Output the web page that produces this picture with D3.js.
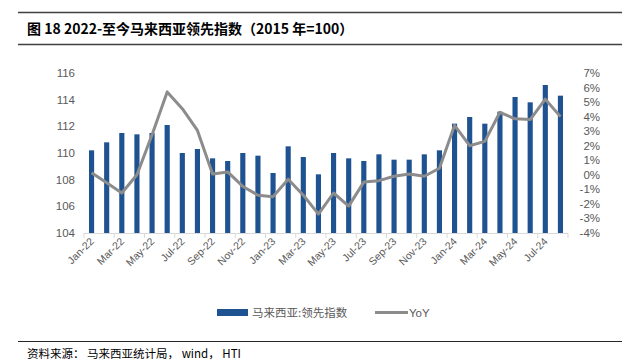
<!DOCTYPE html>
<html>
<head>
<meta charset="utf-8">
<script src="https://cdn.jsdelivr.net/npm/d3@7"></script>
<style>
  body { margin: 0; background: #fff; }
  svg { display: block; font-family: "Liberation Sans", "Noto Sans CJK SC", sans-serif; }
</style>
</head>
<body>
<svg width="633" height="363"></svg>
<script>
// Months Jan-22 .. Aug-24
const months = ["Jan-22","Feb-22","Mar-22","Apr-22","May-22","Jun-22","Jul-22","Aug-22","Sep-22","Oct-22","Nov-22","Dec-22",
                "Jan-23","Feb-23","Mar-23","Apr-23","May-23","Jun-23","Jul-23","Aug-23","Sep-23","Oct-23","Nov-23","Dec-23",
                "Jan-24","Feb-24","Mar-24","Apr-24","May-24","Jun-24","Jul-24","Aug-24"];

// Leading index (2015=100)
const indexValues = [110.2,110.8,111.5,111.4,111.5,112.1,110.0,110.3,109.6,109.4,110.0,109.8,
                     108.5,110.5,109.7,108.4,110.0,109.6,109.4,109.9,109.5,109.5,109.9,110.2,
                     112.2,112.7,112.2,113.1,114.2,113.8,115.1,114.3];

// YoY, %
const yoyValues = [0.15,-0.55,-1.25,0.0,2.75,5.7,4.55,3.05,0.05,0.2,-0.8,-1.4,
                   -1.5,-0.3,-1.4,-2.7,-1.25,-2.15,-0.5,-0.4,-0.1,0.05,-0.1,0.45,
                   3.4,2.0,2.3,4.3,3.85,3.8,5.2,4.0];

const leftTicks = [104,106,108,110,112,114,116];
const rightTicks = [-4,-3,-2,-1,0,1,2,3,4,5,6,7];

const svg = d3.select("svg");
const margin = {top: 73, left: 84};
const plotBottom = 233, plotRight = 568;

const x = d3.scaleBand().domain(months).range([margin.left, plotRight]).paddingInner(0.66).paddingOuter(0.33);
const yL = d3.scaleLinear().domain([104,116]).range([plotBottom, margin.top]);
const yR = d3.scaleLinear().domain([-4,7]).range([plotBottom, margin.top]);

// Title block
svg.append("line").attr("x1",18).attr("x2",622).attr("y1",12.5).attr("y2",12.5)
  .attr("stroke","#404040").attr("stroke-width",1.5);
svg.append("line").attr("x1",18).attr("x2",622).attr("y1",44.5).attr("y2",44.5)
  .attr("stroke","#404040").attr("stroke-width",1.5);
svg.append("text").attr("x",27).attr("y",34)
  .attr("font-size","14px").attr("font-weight","bold").attr("fill","#000")
  .attr("font-family","'Noto Sans CJK SC', sans-serif")
  .text("图 18 2022-至今马来西亚领先指数（2015 年=100）");

// Bars
svg.append("g").selectAll("rect").data(months).join("rect")
  .attr("x", d => x(d))
  .attr("width", x.bandwidth())
  .attr("y", (d,i) => yL(indexValues[i]))
  .attr("height", (d,i) => plotBottom - yL(indexValues[i]))
  .attr("fill","#1f5291");

// x axis
const step = x.step();
const xAxis = svg.append("g");
xAxis.append("line").attr("x1",margin.left).attr("x2",plotRight)
  .attr("y1",plotBottom+0.5).attr("y2",plotBottom+0.5).attr("stroke","#d9d9d9");
xAxis.selectAll("line.tick").data(d3.range(0, months.length+1, 2)).join("line")
  .attr("class","tick")
  .attr("x1", i => margin.left + i*step).attr("x2", i => margin.left + i*step)
  .attr("y1", plotBottom).attr("y2", plotBottom+5).attr("stroke","#d9d9d9");
xAxis.selectAll("text").data(months.filter((d,i) => i%2===0)).join("text")
  .attr("transform", d => `translate(${x(d)+x.bandwidth()/2+3},${plotBottom+9}) rotate(-45)`)
  .attr("text-anchor","end")
  .attr("font-size","10.5px").attr("fill","#595959")
  .text(d => d);

// Left axis
svg.append("g").selectAll("text").data(leftTicks).join("text")
  .attr("x",75).attr("y", d => yL(d)+4)
  .attr("text-anchor","end").attr("font-size","11.5px").attr("fill","#595959")
  .text(d => d);

// Right axis
svg.append("g").selectAll("text").data(rightTicks).join("text")
  .attr("x",600).attr("y", d => yR(d)+4)
  .attr("text-anchor","end").attr("font-size","11.5px").attr("fill","#595959")
  .text(d => d + "%");

// YoY line
const line = d3.line()
  .x((d,i) => x(months[i]) + x.bandwidth()/2)
  .y(d => yR(d));
svg.append("path").datum(yoyValues)
  .attr("fill","none").attr("stroke","#8c8c8c").attr("stroke-width",3)
  .attr("stroke-linejoin","round")
  .attr("d", line);

// Legend
const legend = svg.append("g");
legend.append("rect").attr("x",217).attr("y",309).attr("width",31).attr("height",7).attr("fill","#1f5291");
legend.append("text").attr("x",252).attr("y",317).attr("font-size","11.5px").attr("fill","#595959")
  .attr("font-family","'Noto Sans CJK SC', sans-serif").text("马来西亚:领先指数");
legend.append("line").attr("x1",375).attr("x2",408).attr("y1",312.5).attr("y2",312.5)
  .attr("stroke","#8c8c8c").attr("stroke-width",3);
legend.append("text").attr("x",409).attr("y",317).attr("font-size","11.5px").attr("fill","#595959")
  .text("YoY");

// Footer
svg.append("line").attr("x1",18).attr("x2",622).attr("y1",341.5).attr("y2",341.5)
  .attr("stroke","#262626").attr("stroke-width",1.2);
svg.append("text").attr("x",27).attr("y",358).attr("font-size","11.5px").attr("fill","#000")
  .attr("font-family","'Noto Sans CJK SC', sans-serif")
  .text("资料来源： 马来西亚统计局， wind， HTI");
</script>
</body>
</html>
